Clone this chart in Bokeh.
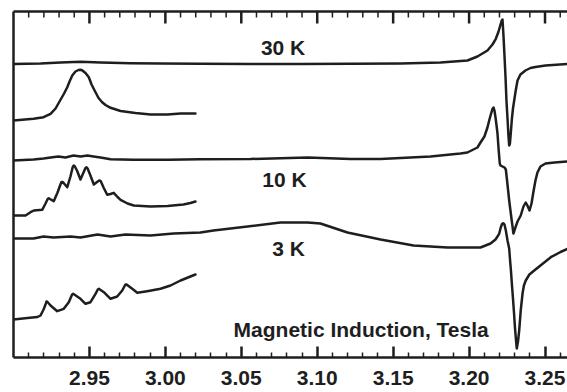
import numpy as np
from bokeh.plotting import figure
from bokeh.models import Range1d, LinearAxis, FixedTicker, NumeralTickFormatter, Label
from bokeh.embed import file_html
from bokeh.resources import INLINE

# ---- data (field in Tesla, signal in arbitrary units incl. vertical offsets) ----
b30_full = [2.9000, 2.9178, 2.9309, 2.9441, 2.9573, 2.9770, 2.9968, 3.0231, 3.0561, 3.0890,
            3.1219, 3.1548, 3.1812, 3.1989, 3.2055, 3.2121, 3.2154, 3.2176, 3.2194, 3.2209,
            3.2215, 3.2220, 3.2226, 3.2233, 3.2240, 3.2246, 3.2253, 3.2259, 3.2264, 3.2269,
            3.2276, 3.2282, 3.2289, 3.2297, 3.2307, 3.2319, 3.2338, 3.2371, 3.2404, 3.2437,
            3.2503, 3.2648]
s30_full = [293.5, 294, 295, 295.7, 295, 294.3, 294, 293.7, 293.5, 293.5,
            293.7, 294, 295, 297, 301, 307, 313, 318.7, 326, 334,
            337, 338, 323, 302, 280, 257, 239, 222, 212, 214,
            227, 239, 249, 257, 267, 277, 283, 287, 289.5, 290.5,
            292, 293.5]

b30_zoom = [2.9000, 2.9132, 2.9198, 2.9244, 2.9277, 2.9333, 2.9354, 2.9369, 2.9387, 2.9408,
            2.9428, 2.9441, 2.9454, 2.9474, 2.9496, 2.9514, 2.9540, 2.9560, 2.9584, 2.9606,
            2.9639, 2.9705, 2.9803, 2.9902, 3.0014, 3.0100, 3.0198]
s30_zoom = [237, 238.7, 240.3, 243.7, 249, 264, 270.3, 276, 282, 286,
            287.5, 287.7, 287, 284.5, 280.3, 273, 265.3, 259.5, 255.3, 252.5,
            249.7, 246.5, 244.5, 243, 243, 244, 244]

b10_full = [2.9000, 2.9132, 2.9198, 2.9244, 2.9296, 2.9342, 2.9395, 2.9441, 2.9487, 2.9527,
            2.9573, 2.9639, 2.9790, 3.0014, 3.0231, 3.0561, 3.0936, 3.1219, 3.1417, 3.1746,
            3.1943, 3.1989, 3.2055, 3.2075, 3.2101, 3.2121, 3.2134, 3.2147, 3.2154, 3.2161,
            3.2167, 3.2174, 3.2180, 3.2187, 3.2194, 3.2202, 3.2207, 3.2220, 3.2233, 3.2242,
            3.2250, 3.2264, 3.2279, 3.2292, 3.2305, 3.2319, 3.2340, 3.2358, 3.2373, 3.2384,
            3.2398, 3.2411, 3.2424, 3.2437, 3.2450, 3.2470, 3.2503, 3.2562, 3.2648]
s10_full = [197, 198, 199, 200, 201, 200, 202, 201, 202, 201,
            200, 198.3, 197.7, 197.7, 198.3, 198.5, 200, 198.5, 198.5, 201,
            204, 205, 210, 215, 221, 230, 238, 245, 248.5, 250,
            247, 240, 233, 224, 209, 194, 192, 191, 190, 188,
            177, 157, 139, 124, 130, 136, 142, 151, 155, 152,
            147, 154, 166, 177, 185, 191, 194, 195, 196]

b10_zoom = [2.9000, 2.9079, 2.9112, 2.9134, 2.9189, 2.9211, 2.9225, 2.9232, 2.9240, 2.9265,
            2.9290, 2.9309, 2.9316, 2.9323, 2.9333, 2.9354, 2.9375, 2.9390, 2.9397, 2.9404,
            2.9418, 2.9441, 2.9461, 2.9474, 2.9481, 2.9488, 2.9504, 2.9529, 2.9550, 2.9562,
            2.9568, 2.9574, 2.9593, 2.9617, 2.9639, 2.9660, 2.9685, 2.9705, 2.9751, 2.9792,
            2.9902, 3.0014, 3.0119, 3.0165, 3.0198]
s10_zoom = [142, 142, 145.3, 147, 147.7, 154, 158.5, 159.3, 158.5, 156.3,
            165, 173, 175.5, 175.5, 174, 170.3, 181, 190.5, 192, 191,
            187, 178, 185, 189.5, 190.3, 189, 183, 173, 175.5, 176.7,
            177, 176.5, 170, 162.7, 163.5, 164.7, 160.5, 157.7, 154, 152,
            151, 151.5, 153, 154.5, 156]

b3_full = [2.9000, 2.9132, 2.9198, 2.9263, 2.9375, 2.9441, 2.9553, 2.9639, 2.9737, 2.9902,
           3.0054, 3.0231, 3.0317, 3.0541, 3.0758, 3.0936, 3.1021, 3.1199, 3.1417, 3.1634,
           3.1858, 3.2075, 3.2141, 3.2174, 3.2198, 3.2209, 3.2217, 3.2226, 3.2233, 3.2242,
           3.2253, 3.2264, 3.2269, 3.2276, 3.2282, 3.2289, 3.2296, 3.2302, 3.2309, 3.2314,
           3.2322, 3.2330, 3.2340, 3.2352, 3.2361, 3.2373, 3.2397, 3.2429, 3.2470, 3.2538,
           3.2602, 3.2648]
s3_full = [119, 119, 121, 120, 121, 120, 123, 121, 123, 122,
           124, 125, 127, 131, 135, 135, 134, 125, 118, 112,
           110, 110, 114, 118, 123.7, 130.3, 133.5, 134.3, 133, 127,
           117, 109, 99, 86, 73, 59, 44, 30, 17, 9,
           16, 27, 47, 64, 72, 77, 83, 87, 92, 100.3,
           105.5, 108.7]

b3_zoom = [2.9000, 2.9092, 2.9158, 2.9178, 2.9198, 2.9211, 2.9217, 2.9224, 2.9244, 2.9288,
           2.9331, 2.9364, 2.9386, 2.9393, 2.9400, 2.9441, 2.9474, 2.9507, 2.9540, 2.9555,
           2.9562, 2.9569, 2.9595, 2.9639, 2.9683, 2.9716, 2.9735, 2.9742, 2.9749, 2.9782,
           2.9815, 2.9880, 2.9968, 3.0034, 3.0100, 3.0165, 3.0198]
s3_zoom = [38, 39.5, 40.5, 42, 48, 53, 56, 55.5, 52, 46.3,
           48.7, 55.3, 63, 63.7, 63, 58.7, 53.7, 55.3, 63.7, 68,
           68.7, 68, 65.3, 58.7, 61, 67, 72.5, 73, 72.5, 68.7,
           64.7, 66.3, 68.7, 72, 77, 81, 83]

major_ticks = [2.95, 3.00, 3.05, 3.10, 3.15, 3.20, 3.25]
minor_ticks = [round(v, 2) for v in np.arange(2.91, 3.27, 0.01)
               if round(v, 2) not in major_ticks]

labels = [("30 K", 3.0775, 310), ("10 K", 3.0784, 178), ("3 K", 3.0811, 109)]
axis_title = ("Magnetic Induction, Tesla", 3.0449, 28)

INK = "#1e1e1e"
FONT = "Liberation Sans"
Y_TOP = 346

p = figure(width=567, height=392, x_range=Range1d(2.90, 3.2648), y_range=Range1d(0, Y_TOP),
           output_backend="svg", toolbar_location=None, x_axis_type=None, y_axis_type=None,
           min_border_left=13, min_border_right=0, min_border_top=11, min_border_bottom=35)
p.outline_line_color = None
p.background_fill_color = "white"
p.border_fill_color = "white"

for xs, ys in [(b30_full, s30_full), (b30_zoom, s30_zoom), (b10_full, s10_full),
               (b10_zoom, s10_zoom), (b3_full, s3_full), (b3_zoom, s3_zoom)]:
    p.line(xs, ys, line_color=INK, line_width=2.5, line_join="round", line_cap="round")

# bottom axis with labels
bottom = LinearAxis(ticker=FixedTicker(ticks=major_ticks, minor_ticks=minor_ticks),
                    formatter=NumeralTickFormatter(format="0.00"))
bottom.axis_line_color = INK
bottom.axis_line_width = 2.5
bottom.major_tick_in = 11
bottom.major_tick_out = 0
bottom.minor_tick_in = 5
bottom.minor_tick_out = 0
bottom.major_tick_line_color = INK
bottom.major_tick_line_width = 2.5
bottom.minor_tick_line_color = INK
bottom.minor_tick_line_width = 1.5
bottom.major_label_text_font = FONT
bottom.major_label_text_font_style = "bold"
bottom.major_label_text_font_size = "21px"
bottom.major_label_text_color = INK
bottom.major_label_standoff = 13
p.add_layout(bottom, "below")

# top frame line (no ticks inside range) and left frame line
for place in ("above", "left"):
    ax = LinearAxis(ticker=FixedTicker(ticks=[-1000.0], minor_ticks=[-1000.0]))
    ax.axis_line_color = INK
    ax.axis_line_width = 2.5
    ax.major_tick_in = 0
    ax.major_tick_out = 0
    ax.minor_tick_in = 0
    ax.minor_tick_out = 0
    ax.major_label_standoff = 0
    p.add_layout(ax, place)

# inward ticks along the top edge
n_maj, n_min = len(major_ticks), len(minor_ticks)
p.segment(x0=major_ticks, x1=major_ticks, y0=[Y_TOP] * n_maj, y1=[Y_TOP - 12] * n_maj,
          line_color=INK, line_width=2.5)
p.segment(x0=minor_ticks, x1=minor_ticks, y0=[Y_TOP] * n_min, y1=[Y_TOP - 6] * n_min,
          line_color=INK, line_width=1.5)

for txt, xv, yv in labels:
    p.add_layout(Label(x=xv, y=yv, text=txt, text_font=FONT, text_font_style="bold",
                       text_font_size="21px", text_color=INK, text_align="center",
                       text_baseline="alphabetic"))
t, xv, yv = axis_title
p.add_layout(Label(x=xv, y=yv, text=t, text_font=FONT, text_font_style="bold",
                   text_font_size="21px", text_color=INK, text_align="left",
                   text_baseline="alphabetic"))

open("out.html", "w").write(file_html(p, INLINE))
